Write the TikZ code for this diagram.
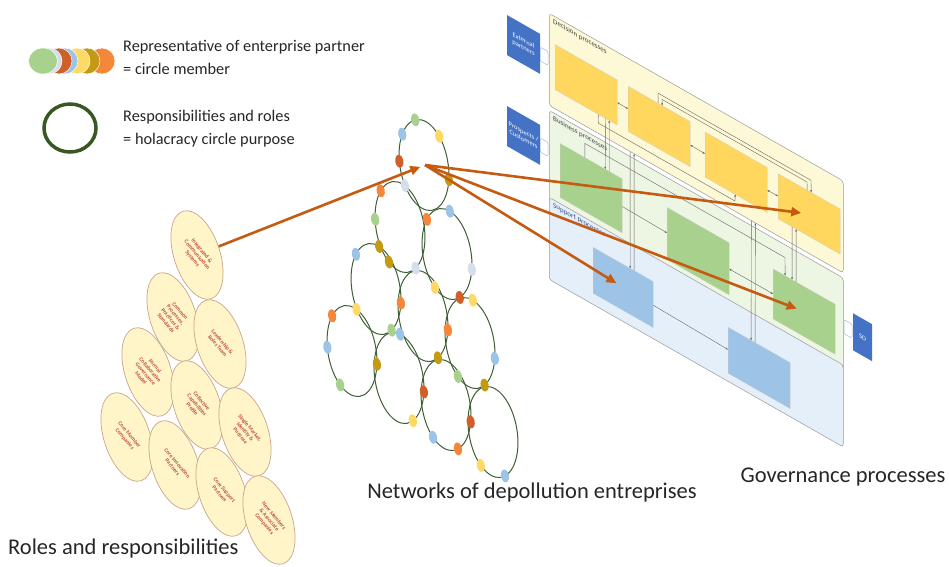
\documentclass[tikz,border=0pt]{standalone}
\usepackage{fontspec}
\setmainfont{Carlito}
\usetikzlibrary{shapes.geometric,arrows.meta,calc}
\definecolor{cArrow}{HTML}{C55A11}
\definecolor{cNet}{HTML}{3F5F34}
\definecolor{cOrange}{HTML}{F4873A}
\definecolor{cRed}{HTML}{D0602A}
\definecolor{cOlive}{HTML}{C39A12}
\definecolor{cYellow}{HTML}{FFD966}
\definecolor{cLBlue}{HTML}{9DC3E6}
\definecolor{cGrey}{HTML}{D6DEEA}
\definecolor{cGreen}{HTML}{A9D18E}
\definecolor{cDkGreen}{HTML}{385723}
\definecolor{cRoleF}{HTML}{FFF5C8}
\definecolor{cRoleB}{HTML}{C9A58E}
\definecolor{cRoleT}{HTML}{C0504D}
\definecolor{cDecF}{HTML}{FDF8D6}
\definecolor{cBusF}{HTML}{EDF5E3}
\definecolor{cSupF}{HTML}{E5EFFA}
\definecolor{cPanelB}{HTML}{9A9A9A}
\definecolor{cBoxY}{HTML}{FFD75E}
\definecolor{cBoxG}{HTML}{A9D18E}
\definecolor{cBoxB}{HTML}{9DC3E6}
\definecolor{cTab}{HTML}{4472C4}
\definecolor{cConn}{HTML}{A9BBD6}
\definecolor{cText}{HTML}{262626}
\newcommand\netdots[2]{\begin{scope}[shift={#1}, rotate=10]\foreach \a/\c in {#2}{\fill[\c] (\a:24pt and 46pt) ellipse [x radius=4pt, y radius=6.5pt];}\end{scope}}
\begin{document}
\begin{tikzpicture}[x=1pt,y=-1pt,
  role/.style={ellipse, draw=cRoleB, fill=cRoleF, line width=0.7pt, minimum width=46pt, minimum height=92pt, inner sep=0pt, rotate=18},
  roletext/.style={font=\fontsize{5.6}{6.2}\selectfont\bfseries, text=cRoleT, align=center, rotate=-50, inner sep=0pt},
  net/.style={draw=cNet, line width=1pt},
  legtext/.style={anchor=west, align=left, font=\fontsize{16.3}{23}\selectfont, text=cText, inner sep=0pt},
  bigtext/.style={font=\fontsize{22.5}{26}\selectfont, text=cText, inner sep=0pt},
  panelbox/.style={anchor=north west, draw=cPanelB, line width=0.5pt, rounded corners=3pt, inner sep=0pt, transform shape, minimum width=294pt},
  gbox/.style={anchor=north west, minimum width=62pt, minimum height=45pt, inner sep=0pt, transform shape, draw=black!20, line width=0.3pt},
  tabbox/.style={fill=cTab, text=white, minimum width=33pt, minimum height=40pt, inner sep=0pt, transform shape, font=\fontsize{6.5}{7.5}\selectfont, align=center},
  connbox/.style={draw=cConn, fill=white, minimum width=8pt, minimum height=14pt, inner sep=0pt, transform shape, rounded corners=1.5pt, line width=0.5pt},
  plabel/.style={anchor=north west, transform shape, font=\fontsize{7}{8}\selectfont, text=black!75, inner sep=1pt},
  wire/.style={draw=black!60, line width=0.4pt},
  wtip/.style={-{Stealth[length=2.5pt,width=2pt]}},
  wboth/.style={{Stealth[length=2.5pt,width=2pt]}-{Stealth[length=2.5pt,width=2pt]}},
  oarrow/.style={draw=cArrow, line width=2.6pt, -{Triangle[length=10pt,width=9pt]}}
]
\fill[white] (0,0) rectangle (949,566);
\useasboundingbox (0,0) rectangle (949,566);

% ---------- legend ----------
\foreach \cx/\col in {102/cOrange,87/cOlive,77/cYellow,65/cLBlue,59/cRed,49/cGrey}
  {\fill[\col, draw=white, line width=0.5pt] (\cx,61) circle [radius=13pt];}
\fill[cGreen, draw=white, line width=0.5pt] (43,61) ellipse [x radius=14.5pt, y radius=13pt];
\node[legtext] (leg1) at (123,57.5) {Representative of enterprise partner\\= circle member};
\draw[cDkGreen, line width=3.5pt] (70,128) ellipse [x radius=26pt, y radius=24pt];
\node[legtext] (leg2) at (123,129) {Responsibilities and roles\\= holacracy circle purpose};

% ---------- roles ----------
\node[role] (r1) at (197,255) {};
\node[roletext] (rt1) at (197,255) {Integrated \&\\Communication\\Systems};
\node[role] (r2) at (173,317) {};
\node[roletext] (rt2) at (173,317) {Common\\Processes,\\Practices \&\\Standards};
\node[role] (r3) at (220,344) {};
\node[roletext] (rt3) at (220,344) {Leadership \&\\Roles Team};
\node[role] (r4) at (148,372) {};
\node[roletext] (rt4) at (148,372) {Formal\\Collaborative\\Governance\\Model};
\node[role] (r5) at (197,405) {};
\node[roletext] (rt5) at (197,405) {Collective\\Capabilities\\Profile};
\node[role] (r6) at (245,432) {};
\node[roletext] (rt6) at (245,432) {Single Market,\\Identity \&\\Purpose};
\node[role] (r7) at (127,437) {};
\node[roletext] (rt7) at (127,437) {Core Member\\Companies};
\node[role] (r8) at (175,465) {};
\node[roletext] (rt8) at (175,465) {Core Innovation\\Partners};
\node[role] (r9) at (222,492) {};
\node[roletext] (rt9) at (222,492) {Core Support\\Partners};
\node[role] (r10) at (269,520) {};
\node[roletext] (rt10) at (269,520) {New Members\\\& Associate\\Companies};

% ---------- network ----------
\foreach \cx/\cy in {424/165,400/227,447/254,376/289,423/316,470/343,352/351,399/378,446/405,493/432}
  {\draw[net, rotate around={10:(\cx,\cy)}] (\cx,\cy) ellipse [x radius=24pt, y radius=46pt];}
\netdots{(424,165)}{132/cLBlue,92/cGreen,34/cYellow,170/cRed,-24/cOlive}
\netdots{(400,227)}{122/cOrange,60/cGrey,165/cGreen,225/cOlive,290/cGrey}
\netdots{(447,254)}{125/cOrange,65/cLBlue,-25/cGrey,282/cRed,222/cYellow}
\netdots{(376,289)}{125/cLBlue,64/cOlive,-23/cOrange,290/cGreen}
\netdots{(423,316)}{288/cOlive,-23/cOrange}
\netdots{(470,343)}{65/cYellow,-25/cLBlue,287/cOlive,222/cGreen}
\netdots{(352,351)}{124/cOrange,61/cYellow,170/cLBlue,223/cGreen,-22/cOlive}
\netdots{(399,378)}{69/cLBlue,-23/cRed,285/cYellow}
\netdots{(446,405)}{220/cLBlue,280/cOrange,-27/cRed}
\netdots{(493,432)}{222/cYellow,280/cLBlue}
\coordinate (hub) at (425,165);

% ---------- governance ----------
\begin{scope}[shift={(549,13)}, yslant=-0.57]
  \node[panelbox, fill=cDecF, minimum height=92pt] (pd) at (0,0) {};
  \node[panelbox, fill=cBusF, minimum height=93pt] (pb) at (0,97) {};
  \node[panelbox, fill=cSupF, minimum height=82pt] (ps) at (0,184) {};
  \node[plabel] (pl1) at (3,2) {Decision processes};
  \node[plabel] (pl2) at (3,99) {Business processes};
  \node[plabel, text=cTab!70!black] (pl3) at (3,186) {Support processes};
  % boxes
  \node[gbox, fill=cBoxY] (y1) at (6,28) {};
  \node[gbox, fill=cBoxY] (y2) at (79,28) {};
  \node[gbox, fill=cBoxY] (y3) at (156,30) {};
  \node[gbox, fill=cBoxY] (y4) at (229,30) {};
  \node[gbox, fill=cBoxG, minimum height=54pt] (g1) at (11,124) {};
  \node[gbox, fill=cBoxG, minimum height=52pt] (g2) at (118,127) {};
  \node[gbox, fill=cBoxG, minimum height=50pt] (g3) at (224,128) {};
  \node[gbox, fill=cBoxB, minimum height=46pt, minimum width=60pt] (b1) at (44,209) {};
  \node[gbox, fill=cBoxB, minimum height=46pt] (b2) at (179,212) {};
  % tabs
  \node[connbox] (k1) at (-5,46) {};
  \node[connbox] (k2) at (-5,137) {};
  \node[connbox] (k3) at (299,145.5) {};
  \node[tabbox] (t1) at (-25.5,46) {External\\partners};
  \node[tabbox] (t2) at (-25.5,137) {Prospects /\\Customers};
  \node[tabbox, minimum width=19pt, minimum height=37pt] (t3) at (313.5,145.5) {SD};
  % wires
  \draw[wire, wboth] (y1) -- (y2);
  \draw[wire, wboth] (y2) -- (y3);
  \draw[wire, wboth] (y3) -- (y4);
  \draw[wire, wtip] (g1) -- (g2);
  \draw[wire, wboth] (g2) -- (g3);
  \draw[wire, wtip] (b1) -- (b2);
  \draw[wire, wtip] ($(y2.north west)!0.484!(y2.north east)$) -- (109,18) -- (262,18) -- ($(y4.north west)!0.532!(y4.north east)$);
  \draw[wire, wtip] ($(y4.north west)!0.468!(y4.north east)$) -- (258,22) -- (113,22) -- ($(y2.north west)!0.548!(y2.north east)$);
  \draw[wire, wtip] ($(y1.south west)!0.70!(y1.south east)$) -- (49.4,82) -- (186,82) -- ($(y3.south west)!0.484!(y3.south east)$);
  \draw[wire, wtip] ($(g1.north west)!0.40!(g1.north east)$) -- (35.8,110) -- (236,110) -- ($(g3.north west)!0.194!(g3.north east)$);
  \draw[wire, wtip] ($(y1.south west)!0.81!(y1.south east)$) -- ($(g1.north west)!0.726!(g1.north east)$);
  \draw[wire, wtip] ($(g1.north west)!0.79!(g1.north east)$) -- ($(y1.south west)!0.87!(y1.south east)$);
  \draw[wire, wtip] ($(pd.south west)!0.2755!(pd.south east)$) -- ($(b1.north west)!0.617!(b1.north east)$);
  \draw[wire, wtip] ($(b1.north west)!0.683!(b1.north east)$) -- ($(pd.south west)!0.289!(pd.south east)$);
  \draw[wire, wtip] ($(pd.south west)!0.687!(pd.south east)$) -- ($(b2.north west)!0.371!(b2.north east)$);
  \draw[wire, wtip] ($(b2.north west)!0.435!(b2.north east)$) -- ($(pd.south west)!0.7007!(pd.south east)$);
  \draw[wire, wtip] ($(y4.south west)!0.226!(y4.south east)$) -- ($(g3.north west)!0.306!(g3.north east)$);
  \draw[wire, wtip] ($(g3.north west)!0.371!(g3.north east)$) -- ($(y4.south west)!0.29!(y4.south east)$);
\end{scope}

% ---------- orange arrows ----------
\draw[oarrow, shorten >=5pt] (r1) -- (hub);
\draw[oarrow, shorten >=8pt] (hub) -- (y4.center);
\draw[oarrow, shorten >=8pt] (hub) -- (g3.center);
\draw[oarrow, shorten >=8pt] (hub) -- (b1.center);

% ---------- captions ----------
\node[bigtext, anchor=west] (lab1) at (8,548) {Roles and responsibilities};
\node[bigtext] (lab2) at (532,492) {Networks of depollution entreprises};
\node[bigtext] (lab3) at (843,477) {Governance processes};
\end{tikzpicture}
\end{document}
